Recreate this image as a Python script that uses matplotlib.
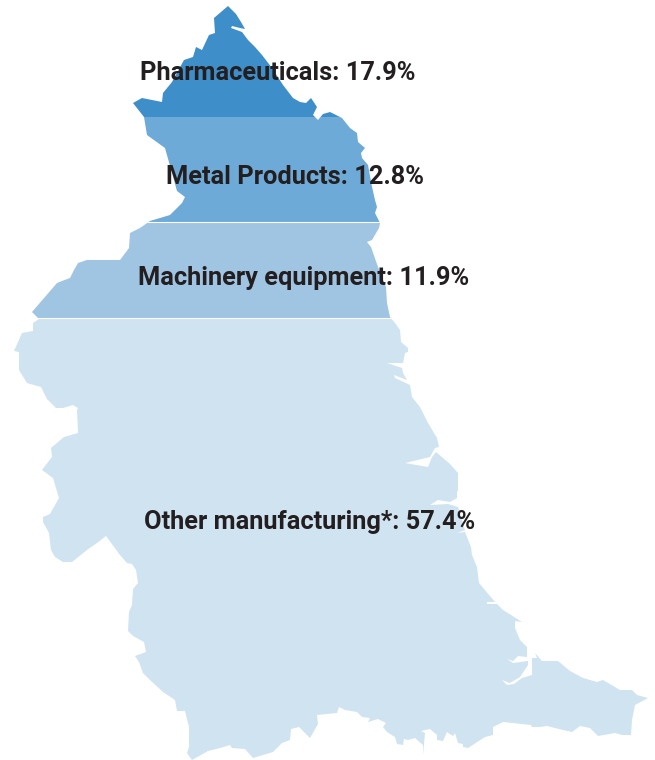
import matplotlib
matplotlib.use("Agg")
import matplotlib.pyplot as plt
from matplotlib.patches import Polygon

# shares and labels
categories = ["Pharmaceuticals", "Metal Products", "Machinery equipment", "Other manufacturing*"]
shares = [17.9, 12.8, 11.9, 57.4]
colors = ["#3e8ec9", "#6daad7", "#9fc5e3", "#d0e3f1"]

# where each band stops, pixels down the map
band_edges = [0, 117, 222, 318, 760]
label_x = [278, 295.5, 303.5, 310]
label_y = [73.5, 176.5, 277.5, 521.5]

# region outline, traced clockwise from the top, pixels
outline_east = [
    (228, 6), (236, 14), (241, 22), (245, 29), (240, 28), (232, 26), (231, 28), (242, 32),
    (248, 40), (255, 47), (262, 55), (272, 68), (283, 85), (293, 98), (300, 102), (306, 103),
    (311, 98), (317, 107), (313, 115), (318, 120), (323, 114), (330, 112), (342, 118),
    (350, 128), (357, 133), (358, 142), (365, 148), (361, 153), (362, 158), (368, 165),
    (372, 187), (375, 200), (377, 207), (375, 213), (380, 223), (379, 228), (372, 240),
    (367, 242), (371, 247), (378, 267), (386, 287), (387, 303), (390, 317), (395, 323),
    (400, 330), (401, 342), (408, 348), (408, 352), (405, 353), (403, 363), (387, 363),
    (402, 368), (403, 373), (407, 380), (394, 375), (395, 378), (410, 385), (412, 397),
    (420, 407), (428, 423), (437, 438), (439, 447), (435, 448), (430, 457), (405, 463),
    (428, 467), (432, 457), (436, 452), (450, 464), (458, 473), (458, 490), (457, 492),
    (457, 498), (450, 502), (438, 500), (430, 505), (448, 504), (458, 507), (465, 530),
    (457, 533), (465, 532), (471, 547), (472, 555), (477, 567), (479, 583),
]
outline_south = [
    (495, 602), (487, 602), (487, 604), (497, 604), (503, 610), (522, 622), (515, 621),
    (515, 628), (520, 640), (527, 647), (527, 657), (518, 656), (513, 661), (507, 659),
    (513, 663), (528, 661), (528, 665), (520, 677), (510, 683), (502, 680), (507, 685),
    (514, 684), (522, 678), (532, 675), (532, 658), (537, 658), (535, 653), (542, 661),
    (558, 661), (570, 671), (583, 678), (597, 682), (603, 680), (620, 690), (632, 690),
    (637, 695), (648, 698), (635, 705), (632, 720), (631, 735), (622, 735), (615, 733),
    (598, 736), (590, 728), (580, 726), (572, 732), (563, 730), (547, 726), (540, 727),
    (532, 727), (531, 725), (503, 722), (493, 727), (493, 735), (485, 737), (468, 748),
    (463, 747), (463, 744), (458, 743), (455, 733), (453, 736), (447, 732), (443, 741),
    (437, 740), (437, 735), (430, 729), (421, 731), (425, 733), (423, 755), (423, 745),
    (415, 738), (408, 740), (404, 739), (403, 745), (397, 744), (395, 737), (387, 732),
    (383, 727), (386, 723), (378, 719), (368, 722), (370, 718), (362, 717), (357, 712),
    (345, 710), (339, 707), (337, 713), (317, 715), (318, 724), (310, 738), (299, 727),
    (291, 729), (290, 740), (282, 743), (273, 752), (253, 758), (245, 749), (232, 748),
    (230, 745), (220, 748), (208, 751), (192, 760), (187, 753), (189, 747), (189, 727),
    (185, 711), (177, 711), (175, 700), (163, 692), (150, 680), (143, 673), (139, 662),
    (135, 656), (146, 652), (144, 642), (133, 636), (128, 631), (129, 612), (132, 605),
    (133, 589), (138, 583), (136, 570), (132, 564),
]
outline_west = [
    (127, 563), (120, 555), (106, 536), (97, 543), (87, 550), (72, 562), (63, 562), (55, 557),
    (51, 550), (49, 533), (43, 522), (43, 517), (50, 514), (59, 498), (53, 478), (42, 470),
    (52, 457), (51, 448), (64, 437), (78, 433), (77, 410), (78, 408), (73, 405), (63, 408),
    (56, 408), (47, 399), (41, 387), (27, 383), (19, 370), (19, 352), (14, 351), (22, 333),
    (33, 331), (33, 323), (39, 319), (32, 312), (57, 283), (62, 281), (70, 278), (74, 270),
    (78, 263), (87, 260), (120, 260), (129, 248), (130, 233), (140, 228), (150, 221),
    (170, 215), (182, 203), (185, 197), (177, 191), (165, 148), (147, 135), (144, 117),
    (133, 103), (142, 98), (162, 102), (163, 93), (172, 82), (184, 60), (193, 57), (196, 47),
    (202, 50), (209, 35), (215, 33), (214, 18),
]

fig = plt.figure(figsize=(6.55, 7.6), dpi=100)
ax = fig.add_axes([0, 0, 1, 1])
ax.set_xlim(0, 655)
ax.set_ylim(760, 0)
ax.axis("off")

shape = Polygon(outline_east + outline_south + outline_west, closed=True, fc="none", ec="none")
ax.add_patch(shape)

for i in range(len(categories)):
    band = ax.axhspan(band_edges[i], band_edges[i + 1], color=colors[i], lw=0)
    band.set_clip_path(shape)

# thin white rules between the lower bands
for edge in band_edges[2:4]:
    rule = ax.axhline(edge, color="white", lw=0.8)
    rule.set_clip_path(shape)

for i in range(len(categories)):
    ax.text(label_x[i], label_y[i], categories[i] + ": " + str(shares[i]) + "%",
            family="Roboto", weight="bold", fontsize=18.3, color="#231f20",
            ha="center", va="center")

fig.savefig("out.png", dpi=100)
